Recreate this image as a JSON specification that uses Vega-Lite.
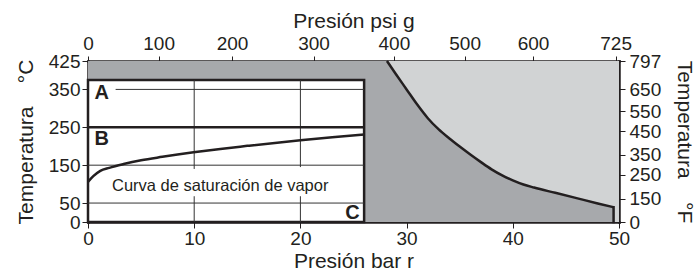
{
  "$schema": "https://vega.github.io/schema/vega-lite/v6.json",
  "width": 531,
  "height": 161,
  "autosize": {"type": "none"},
  "padding": {"left": 88, "top": 61, "right": 78, "bottom": 54},
  "background": "white",
  "config": {
    "view": {"stroke": null},
    "font": "Liberation Sans",
    "axis": {
      "domainColor": "#231f20", "domainWidth": 2.5, "domainCap": "square",
      "tickColor": "#231f20", "tickWidth": 1,
      "labelColor": "#231f20", "labelFont": "Liberation Sans", "labelFontSize": 19,
      "titleColor": "#231f20", "titleFont": "Liberation Sans", "titleFontSize": 21, "titleFontWeight": "normal",
      "grid": false, "zindex": 1, "labelFlush": false, "labelOverlap": false
    }
  },
  "datasets": {
    "frame": [{"x0": 0, "x1": 50, "y0": 0, "y1": 425}],
    "box": [{"x0": 0, "x1": 26, "y0": 0, "y1": 375}],
    "darkArea": [
      {"bar": 0, "c": 425}, {"bar": 28.15, "c": 425}, {"bar": 29.0, "c": 390}, {"bar": 30.0, "c": 350},
      {"bar": 31.0, "c": 310}, {"bar": 32.0, "c": 274}, {"bar": 33.0, "c": 245}, {"bar": 34.0, "c": 221},
      {"bar": 35.0, "c": 199}, {"bar": 36.0, "c": 178}, {"bar": 37.0, "c": 158}, {"bar": 38.0, "c": 139},
      {"bar": 39.0, "c": 123}, {"bar": 40.0, "c": 110}, {"bar": 41.0, "c": 99}, {"bar": 42.0, "c": 91},
      {"bar": 44.0, "c": 77}, {"bar": 46.0, "c": 63}, {"bar": 48.0, "c": 49}, {"bar": 49.49, "c": 39}
    ],
    "boundary": [
      {"bar": 28.15, "c": 425}, {"bar": 29.0, "c": 390}, {"bar": 30.0, "c": 350},
      {"bar": 31.0, "c": 310}, {"bar": 32.0, "c": 274}, {"bar": 33.0, "c": 245}, {"bar": 34.0, "c": 221},
      {"bar": 35.0, "c": 199}, {"bar": 36.0, "c": 178}, {"bar": 37.0, "c": 158}, {"bar": 38.0, "c": 139},
      {"bar": 39.0, "c": 123}, {"bar": 40.0, "c": 110}, {"bar": 41.0, "c": 99}, {"bar": 42.0, "c": 91},
      {"bar": 44.0, "c": 77}, {"bar": 46.0, "c": 63}, {"bar": 48.0, "c": 49}, {"bar": 49.49, "c": 39}
    ],
    "drop": [{"bar": 49.49, "c0": 0, "c1": 39}],
    "hgrid": [
      {"c": 50, "x0": 0, "x1": 26}, {"c": 150, "x0": 0, "x1": 26}, {"c": 350, "x0": 2.6, "x1": 26}
    ],
    "vgrid": [
      {"bar": 10, "c0": 0, "c1": 68}, {"bar": 10, "c0": 140, "c1": 375},
      {"bar": 20, "c0": 0, "c1": 68}, {"bar": 20, "c0": 145, "c1": 375}
    ],
    "thick": [{"c": 250, "x0": 0, "x1": 26}],
    "saturation": [
      {"bar": 0, "c": 106}, {"bar": 0.5, "c": 121}, {"bar": 1.16, "c": 135}, {"bar": 2, "c": 143},
      {"bar": 3.35, "c": 153}, {"bar": 5, "c": 163}, {"bar": 7, "c": 172}, {"bar": 9.94, "c": 184},
      {"bar": 12.46, "c": 193}, {"bar": 15, "c": 201}, {"bar": 20, "c": 216}, {"bar": 23, "c": 224},
      {"bar": 26, "c": 231}
    ],
    "letters": [
      {"bar": 1.3, "c": 324, "t": "A"}, {"bar": 1.3, "c": 204, "t": "B"}, {"bar": 24.9, "c": 9, "t": "C"}
    ],
    "note": [{"bar": 12.45, "c": 81, "t": "Curva de saturación de vapor"}]
  },
  "layer": [
    {
      "data": {"name": "frame"},
      "mark": {"type": "rect", "fill": "#d1d3d4"},
      "encoding": {
        "x": {"field": "x0", "type": "quantitative", "scale": {"domain": [0, 50], "nice": false, "zero": false},
          "axis": {"orient": "bottom", "values": [0, 10, 20, 30, 40, 50], "tickSize": 6, "labelPadding": 1, "title": "Presión bar r", "titlePadding": 2}},
        "x2": {"field": "x1"},
        "y": {"field": "y0", "type": "quantitative", "scale": {"domain": [0, 425], "nice": false, "zero": false},
          "axis": {"orient": "left", "values": [0, 50, 150, 250, 350, 425], "tickSize": 6, "labelPadding": 2, "title": "Temperatura\u00a0\u00a0\u00a0\u00a0°C", "titlePadding": 12}},
        "y2": {"field": "y1"}
      }
    },
    {
      "data": {"name": "darkArea"},
      "mark": {"type": "area", "fill": "#a7a9ac", "interpolate": "monotone"},
      "encoding": {
        "x": {"field": "bar", "type": "quantitative", "scale": {"domain": [0, 50], "nice": false, "zero": false}, "axis": null},
        "y": {"field": "c", "type": "quantitative", "scale": {"domain": [0, 425], "nice": false, "zero": false}, "axis": null},
        "y2": {"datum": 0}
      }
    },
    {
      "data": {"name": "box"},
      "mark": {"type": "rect", "fill": "white", "stroke": "#231f20", "strokeWidth": 2.5},
      "encoding": {
        "x": {"field": "x0", "type": "quantitative", "scale": {"domain": [0, 50], "nice": false, "zero": false},
          "axis": {"orient": "top", "values": [0, 6.65, 13.56, 21.24, 28.8, 35.46, 41.9, 49.68], "tickSize": 5, "labelPadding": 3,
            "labelExpr": "datum.value < 3 ? '0' : datum.value < 10 ? '100' : datum.value < 17 ? '200' : datum.value < 25 ? '300' : datum.value < 32 ? '400' : datum.value < 39 ? '500' : datum.value < 45 ? '600' : '725'",
            "title": "Presión psi g", "titlePadding": 3}},
        "x2": {"field": "x1"},
        "y": {"field": "y0", "type": "quantitative", "scale": {"domain": [0, 425], "nice": false, "zero": false},
          "axis": {"orient": "right", "values": [0, 62, 125, 178, 240, 292, 350, 425], "tickSize": 6, "labelPadding": 4,
            "labelExpr": "datum.value < 30 ? '0' : datum.value < 90 ? '150' : datum.value < 150 ? '250' : datum.value < 210 ? '350' : datum.value < 265 ? '450' : datum.value < 320 ? '550' : datum.value < 390 ? '650' : '797'",
            "title": "Temperatura\u00a0\u00a0\u00a0\u00a0°F", "titlePadding": 13}},
        "y2": {"field": "y1"}
      }
    },
    {
      "data": {"name": "hgrid"},
      "mark": {"type": "rule", "stroke": "#333333", "strokeWidth": 1},
      "encoding": {
        "x": {"field": "x0", "type": "quantitative", "scale": {"domain": [0, 50], "nice": false, "zero": false}, "axis": null},
        "x2": {"field": "x1"},
        "y": {"field": "c", "type": "quantitative", "scale": {"domain": [0, 425], "nice": false, "zero": false}, "axis": null}
      }
    },
    {
      "data": {"name": "vgrid"},
      "mark": {"type": "rule", "stroke": "#333333", "strokeWidth": 1},
      "encoding": {
        "x": {"field": "bar", "type": "quantitative", "scale": {"domain": [0, 50], "nice": false, "zero": false}, "axis": null},
        "y": {"field": "c0", "type": "quantitative", "scale": {"domain": [0, 425], "nice": false, "zero": false}, "axis": null},
        "y2": {"field": "c1"}
      }
    },
    {
      "data": {"name": "thick"},
      "mark": {"type": "rule", "stroke": "#231f20", "strokeWidth": 2.5},
      "encoding": {
        "x": {"field": "x0", "type": "quantitative", "scale": {"domain": [0, 50], "nice": false, "zero": false}, "axis": null},
        "x2": {"field": "x1"},
        "y": {"field": "c", "type": "quantitative", "scale": {"domain": [0, 425], "nice": false, "zero": false}, "axis": null}
      }
    },
    {
      "data": {"name": "saturation"},
      "mark": {"type": "line", "stroke": "#231f20", "strokeWidth": 2.5, "interpolate": "monotone"},
      "encoding": {
        "x": {"field": "bar", "type": "quantitative", "scale": {"domain": [0, 50], "nice": false, "zero": false}, "axis": null},
        "y": {"field": "c", "type": "quantitative", "scale": {"domain": [0, 425], "nice": false, "zero": false}, "axis": null}
      }
    },
    {
      "data": {"name": "boundary"},
      "mark": {"type": "line", "stroke": "#231f20", "strokeWidth": 2.5, "interpolate": "monotone"},
      "encoding": {
        "x": {"field": "bar", "type": "quantitative", "scale": {"domain": [0, 50], "nice": false, "zero": false}, "axis": null},
        "y": {"field": "c", "type": "quantitative", "scale": {"domain": [0, 425], "nice": false, "zero": false}, "axis": null}
      }
    },
    {
      "data": {"name": "drop"},
      "mark": {"type": "rule", "stroke": "#231f20", "strokeWidth": 2.5, "strokeCap": "square"},
      "encoding": {
        "x": {"field": "bar", "type": "quantitative", "scale": {"domain": [0, 50], "nice": false, "zero": false}, "axis": null},
        "y": {"field": "c0", "type": "quantitative", "scale": {"domain": [0, 425], "nice": false, "zero": false}, "axis": null},
        "y2": {"field": "c1"}
      }
    },
    {
      "data": {"name": "letters"},
      "mark": {"type": "text", "font": "Liberation Sans", "fontSize": 20, "fontWeight": "bold", "fill": "#231f20", "align": "center", "baseline": "alphabetic"},
      "encoding": {
        "x": {"field": "bar", "type": "quantitative", "scale": {"domain": [0, 50], "nice": false, "zero": false}, "axis": null},
        "y": {"field": "c", "type": "quantitative", "scale": {"domain": [0, 425], "nice": false, "zero": false}, "axis": null},
        "text": {"field": "t"}
      }
    },
    {
      "data": {"name": "note"},
      "mark": {"type": "text", "font": "Liberation Sans", "fontSize": 16.5, "fill": "#231f20", "align": "center", "baseline": "alphabetic"},
      "encoding": {
        "x": {"field": "bar", "type": "quantitative", "scale": {"domain": [0, 50], "nice": false, "zero": false}, "axis": null},
        "y": {"field": "c", "type": "quantitative", "scale": {"domain": [0, 425], "nice": false, "zero": false}, "axis": null},
        "text": {"field": "t"}
      }
    }
  ],
  "resolve": {"axis": {"x": "independent", "y": "independent"}}
}
